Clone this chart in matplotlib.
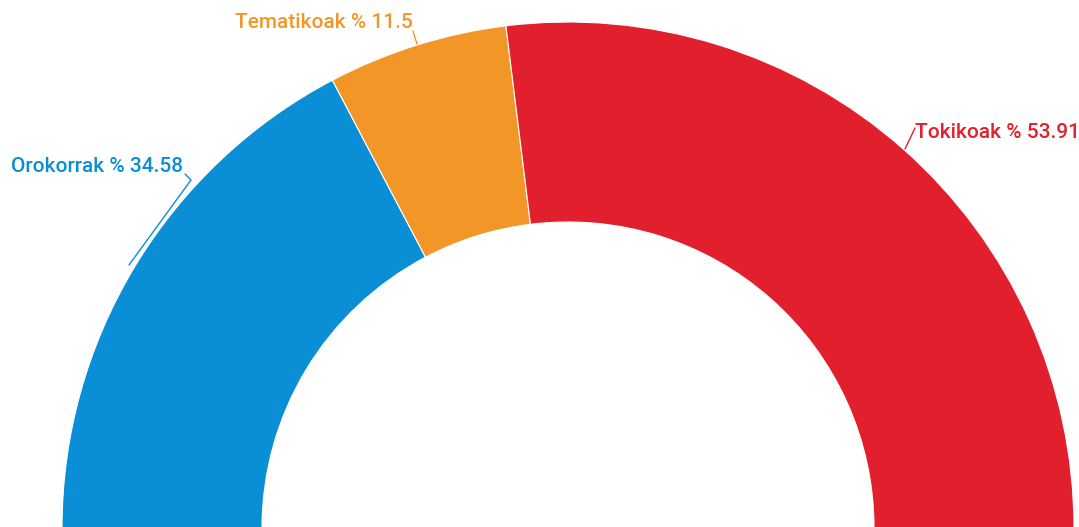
import numpy as np
import matplotlib
matplotlib.use("Agg")
import matplotlib.pyplot as plt

categories = ["Orokorrak", "Tematikoak", "Tokikoak"]
values = [34.58, 11.5, 53.91]
colors = ["#0a8fd6", "#f39628", "#e2202d"]

W, H = 1079, 527
fig = plt.figure(figsize=(W / 100, H / 100), dpi=100)
ax = fig.add_axes([0, 0, 1, 1])

cx, cy = 568, -1          # centre in pixel-like data units (y up)
R = 506
ring = 200

total = sum(values)
wedges, _ = ax.pie(values + [total], radius=R, center=(cx, cy), startangle=180,
                   counterclock=False, colors=colors + ["none"],
                   wedgeprops=dict(width=ring, edgecolor="white", linewidth=0.8))
wedges[-1].set_visible(False)

ax.set_xlim(0, W)
ax.set_ylim(0, H)
ax.set_aspect("equal")
ax.axis("off")

font = "Roboto"
fs = 15.0
# label text placement (pixel coords, y down) and leader paths
text_pos = [(11, 166, "left"), (235, 22, "left"), (915, 132, "left")]
leaders = [
    [(185, 174), (191, 180), (129, 265)],
    [(413, 31), (417, 44)],
    [(915, 128), (905, 149)],
]
for cat, v, col, (tx, ty, ha), path in zip(categories, values, colors, text_pos, leaders):
    xs = [p[0] for p in path]
    ys = [H - p[1] for p in path]
    ax.plot(xs, ys, color=col, lw=1.0, solid_capstyle="round")
    ax.text(tx, H - ty, f"{cat} % {v:g}", color=col, fontsize=fs, family=font,
            weight="medium", ha=ha, va="center")

fig.savefig("out.png", dpi=100)
